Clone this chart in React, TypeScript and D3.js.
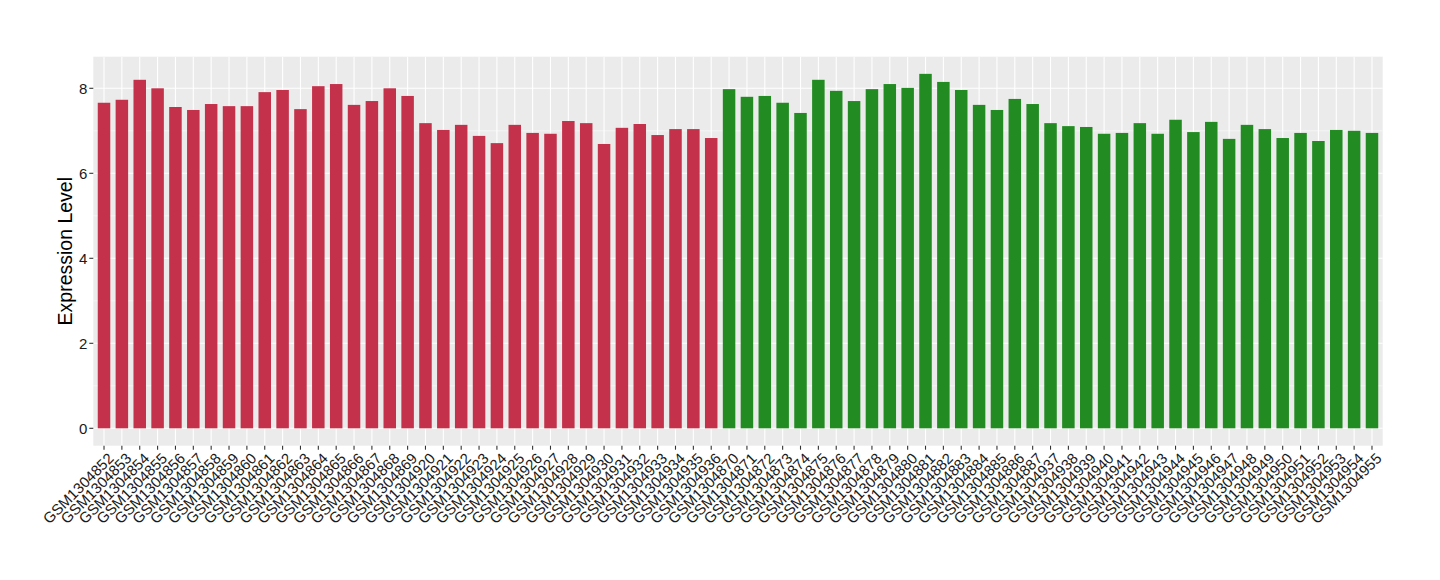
import React from "react";
import * as d3 from "d3";

const redSamples = [
  "GSM1304852","GSM1304853","GSM1304854","GSM1304855","GSM1304856","GSM1304857",
  "GSM1304858","GSM1304859","GSM1304860","GSM1304861","GSM1304862","GSM1304863",
  "GSM1304864","GSM1304865","GSM1304866","GSM1304867","GSM1304868","GSM1304869",
  "GSM1304920","GSM1304921","GSM1304922","GSM1304923","GSM1304924","GSM1304925",
  "GSM1304926","GSM1304927","GSM1304928","GSM1304929","GSM1304930","GSM1304931",
  "GSM1304932","GSM1304933","GSM1304934","GSM1304935","GSM1304936",
];
const redValues = [
  7.66, 7.73, 8.20, 8.00, 7.56, 7.49, 7.63, 7.58, 7.58, 7.91, 7.96, 7.51,
  8.05, 8.10, 7.61, 7.70, 8.00, 7.82,
  7.18, 7.02, 7.14, 6.88, 6.71, 7.14, 6.95, 6.93, 7.23, 7.18, 6.69, 7.07,
  7.16, 6.90, 7.04, 7.04, 6.83,
];
const greenSamples = [
  "GSM1304870","GSM1304871","GSM1304872","GSM1304873","GSM1304874","GSM1304875",
  "GSM1304876","GSM1304877","GSM1304878","GSM1304879","GSM1304880","GSM1304881",
  "GSM1304882","GSM1304883","GSM1304884","GSM1304885","GSM1304886","GSM1304887",
  "GSM1304937","GSM1304938","GSM1304939","GSM1304940","GSM1304941","GSM1304942",
  "GSM1304943","GSM1304944","GSM1304945","GSM1304946","GSM1304947","GSM1304948",
  "GSM1304949","GSM1304950","GSM1304951","GSM1304952","GSM1304953","GSM1304954",
  "GSM1304955",
];
const greenValues = [
  7.98, 7.80, 7.82, 7.66, 7.42, 8.20, 7.94, 7.70, 7.98, 8.10, 8.01, 8.34,
  8.15, 7.96, 7.61, 7.49, 7.75, 7.63,
  7.18, 7.11, 7.09, 6.93, 6.95, 7.18, 6.93, 7.26, 6.97, 7.21, 6.81, 7.14,
  7.04, 6.83, 6.95, 6.76, 7.02, 7.00, 6.95,
];
const yTicks = [0, 2, 4, 6, 8];
const yMinor = [1, 3, 5, 7];
const RED = "#C3314A";
const GREEN = "#228B22";
const yTitle = "Expression Level";

const W = 1440;
const H = 580;
const panel = { left: 93.3, right: 1382.7, top: 56.7, bottom: 445.7 };
const FONT = "'Liberation Sans', Arial, Helvetica, sans-serif";

export default function App() {
  const data = [
    ...redSamples.map((s, i) => ({ s, v: redValues[i], c: RED })),
    ...greenSamples.map((s, i) => ({ s, v: greenValues[i], c: GREEN })),
  ];
  const x = d3
    .scaleBand<string>()
    .domain(data.map((d) => d.s))
    .range([panel.left, panel.right])
    .paddingInner(0.3)
    .paddingOuter(0.25);
  const y = d3.scaleLinear().domain([0, 8]).range([428.3, 88.3]);
  const bw = x.bandwidth();

  return (
    <svg
      width={W}
      height={H}
      style={{ position: "absolute", left: 0, top: 0, background: "#fff" }}
      fontFamily={FONT}
    >
      <rect
        x={panel.left}
        y={panel.top}
        width={panel.right - panel.left}
        height={panel.bottom - panel.top}
        fill="#EBEBEB"
      />
      {yMinor.map((t) => (
        <line
          key={"mn" + t}
          x1={panel.left}
          x2={panel.right}
          y1={y(t)}
          y2={y(t)}
          stroke="#fff"
          strokeWidth={0.55}
        />
      ))}
      {yTicks.map((t) => (
        <line
          key={"mj" + t}
          x1={panel.left}
          x2={panel.right}
          y1={y(t)}
          y2={y(t)}
          stroke="#fff"
          strokeWidth={1.1}
        />
      ))}
      {data.map((d) => {
        const cx = (x(d.s) as number) + bw / 2;
        return (
          <line
            key={"vg" + d.s}
            x1={cx}
            x2={cx}
            y1={panel.top}
            y2={panel.bottom}
            stroke="#fff"
            strokeWidth={1.1}
          />
        );
      })}
      {data.map((d) => (
        <rect
          key={"b" + d.s}
          x={x(d.s)}
          y={y(d.v)}
          width={bw}
          height={y(0) - y(d.v)}
          fill={d.c}
        />
      ))}
      {yTicks.map((t) => (
        <g key={"yt" + t}>
          <line
            x1={panel.left - 4}
            x2={panel.left}
            y1={y(t)}
            y2={y(t)}
            stroke="#333"
            strokeWidth={1.1}
          />
          <text
            x={panel.left - 6}
            y={y(t)}
            dy="0.36em"
            textAnchor="end"
            fontSize={15}
            fill="#1a1a1a"
          >
            {t}
          </text>
        </g>
      ))}
      {data.map((d) => {
        const cx = (x(d.s) as number) + bw / 2;
        return (
          <g key={"xt" + d.s}>
            <line
              x1={cx}
              x2={cx}
              y1={panel.bottom}
              y2={panel.bottom + 4}
              stroke="#333"
              strokeWidth={1.1}
            />
            <text
              transform={`translate(${cx + 3},${panel.bottom + 6}) rotate(-45)`}
              dy="0.72em"
              textAnchor="end"
              fontSize={15}
              fill="#1a1a1a"
            >
              {d.s}
            </text>
          </g>
        );
      })}
      <text
        transform={`translate(72,${(panel.top + panel.bottom) / 2}) rotate(-90)`}
        textAnchor="middle"
        fontSize={19.5}
        fill="#000"
      >
        {yTitle}
      </text>
    </svg>
  );
}
